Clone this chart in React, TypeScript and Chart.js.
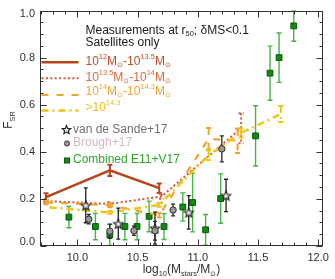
import { useEffect, useRef } from "react";
import { Chart, registerables } from "chart.js";

Chart.register(...registerables);

const FONT = '"Liberation Sans", Arial, Helvetica, sans-serif';
const AXIS_COLOR = "#303030";

// Axis ranges and tick layout
const X_MIN = 9.69;
const X_MAX = 12.04;
const X_MAJOR = 0.5;
const X_MINOR = 0.1;
const Y_MIN = 0;
const Y_MAX = 1;
const Y_MAJOR = 0.2;
const Y_MINOR = 0.05;
const Y_TICK_LABELS = ["0.0", "0.2", "0.4", "0.6", "0.8", "1.0"];

// Halo mass bins (satellites only)
const haloLowX = [9.74, 10.27, 10.68];
const haloLowY = [0.207, 0.321, 0.245];
const haloLowErr = [0.016, 0.024, 0.02];

const haloMidX = [9.74, 10.27, 10.7, 11.36];
const haloMidY = [0.19, 0.178, 0.21, 0.5];
const haloMidErr = [0.008, 0.008, 0.01, 0.064];

const haloHighX = [9.74, 10.27, 10.68, 11.09, 11.33];
const haloHighY = [0.185, 0.172, 0.13, 0.455, 0.447];
const haloHighErr = [0.008, 0.008, 0.01, 0.046, 0.052];

const haloTopX = [9.77, 10.27, 10.68, 11.09, 11.36, 11.69];
const haloTopY = [0.163, 0.142, 0.174, 0.385, 0.48, 0.56];
const haloTopErr = [0, 0.006, 0.008, 0.02, 0.02, 0.034];

// Literature measurements
const sandeX = [10.07, 10.34, 10.645, 10.925, 11.235];
const sandeY = [0.172, 0.094, 0.075, 0.142, 0.214];
const sandeErr = [0.074, 0.066, 0.068, 0.071, 0.069];

const broughX = [10.095, 10.27, 10.47, 10.645, 10.795, 11.2];
const broughY = [0.113, 0.062, 0.064, 0.064, 0.152, 0.412];
const broughErr = [0.02, 0.03, 0.02, 0.04, 0.025, 0.055];

const combinedX = [9.93, 10.15, 10.27, 10.395, 10.496, 10.596, 10.72, 10.876, 10.957, 11.065, 11.19, 11.48, 11.6, 11.675, 11.797];
const combinedY = [0.122, 0.082, 0.046, 0.082, 0.082, 0.125, 0.082, 0.165, 0.184, 0.068, 0.201, 0.4675, 0.734, 0.8, 0.935];
const combinedErr = [0.045, 0.056, 0.045, 0.056, 0.056, 0.065, 0.055, 0.06, 0.125, 0.065, 0.105, 0.128, 0.115, 0.105, 0.065];

// Line styles
const LOW_COLOR = "#b8441c";
const MID_COLOR = "#e0552d";
const HIGH_COLOR = "#f0a530";
const TOP_COLOR = "#f2c414";
const LOW_DASH: number[] = [];
const MID_DASH = [2, 2.4];
const HIGH_DASH = [7, 8];
const TOP_DASH = [7, 4, 2, 4];

const STAR_FILL = "#e4e4e4";
const STAR_EDGE = "#1e1e1e";
const CIRCLE_FILL = "#9a9a9a";
const CIRCLE_EDGE = "#333333";
const SQUARE_FILL = "#128a12";
const SQUARE_EDGE = "#0a5a0a";
const GREEN_BAR = "#43b543";

type Seg = [string, number];

function pts(xs: number[], ys: number[]) {
  return xs.map((x, i) => ({ x, y: ys[i] }));
}

function traceStar(ctx: CanvasRenderingContext2D, cx: number, cy: number, r: number) {
  ctx.beginPath();
  for (let i = 0; i < 10; i++) {
    const rad = i % 2 === 0 ? r : r * 0.45;
    const a = -Math.PI / 2 + (i * Math.PI) / 5;
    const px = cx + rad * Math.cos(a);
    const py = cy + rad * Math.sin(a);
    if (i === 0) ctx.moveTo(px, py);
    else ctx.lineTo(px, py);
  }
  ctx.closePath();
}

function makeStar(r: number): HTMLCanvasElement {
  const size = Math.ceil(r * 2 + 4);
  const c = document.createElement("canvas");
  c.width = size;
  c.height = size;
  const ctx = c.getContext("2d")!;
  traceStar(ctx, size / 2, size / 2 + r * 0.1, r);
  ctx.fillStyle = STAR_FILL;
  ctx.fill();
  ctx.lineWidth = 1.1;
  ctx.strokeStyle = STAR_EDGE;
  ctx.stroke();
  return c;
}

function drawRich(
  ctx: CanvasRenderingContext2D,
  x: number,
  y: number,
  segs: Seg[],
  size: number,
  color: string,
  align: "left" | "center" | "right" = "left"
) {
  const small = size * 0.62;
  let w = 0;
  for (const [t, m] of segs) {
    ctx.font = `${m ? small : size}px ${FONT}`;
    w += ctx.measureText(t).width;
  }
  let cx = align === "center" ? x - w / 2 : align === "right" ? x - w : x;
  ctx.fillStyle = color;
  ctx.textBaseline = "middle";
  ctx.textAlign = "left";
  for (const [t, m] of segs) {
    ctx.font = `${m ? small : size}px ${FONT}`;
    const dy = m === 1 ? -size * 0.36 : m === -1 ? size * 0.3 : 0;
    ctx.fillText(t, cx, y + dy);
    cx += ctx.measureText(t).width;
  }
}

const errorBarPlugin = {
  id: "errorBars",
  beforeDatasetDraw(chart: any, args: any) {
    const ds = chart.data.datasets[args.index];
    if (!ds.errors) return;
    const { ctx, chartArea: a } = chart;
    const yScale = chart.scales.y;
    ctx.save();
    ctx.beginPath();
    ctx.rect(a.left, a.top, a.right - a.left, a.bottom - a.top);
    ctx.clip();
    ctx.strokeStyle = ds.errorColor;
    ctx.lineWidth = ds.errorWidth;
    ctx.setLineDash(ds.errorDash || []);
    const cap = ds.capWidth / 2;
    args.meta.data.forEach((el: any, i: number) => {
      const e = ds.errors[i];
      if (!e) return;
      const v = ds.data[i].y;
      const x = el.x;
      const yt = yScale.getPixelForValue(v + e);
      const yb = yScale.getPixelForValue(v - e);
      ctx.beginPath();
      ctx.moveTo(x, yt);
      ctx.lineTo(x, yb);
      ctx.moveTo(x - cap, yt);
      ctx.lineTo(x + cap, yt);
      ctx.moveTo(x - cap, yb);
      ctx.lineTo(x + cap, yb);
      ctx.stroke();
    });
    ctx.restore();
  },
};

const boxPlugin = {
  id: "box",
  afterDatasetsDraw(chart: any) {
    const { ctx, chartArea: a, scales } = chart;
    const xs = scales.x;
    const ys = scales.y;
    ctx.save();
    ctx.strokeStyle = AXIS_COLOR;
    ctx.lineWidth = 1;
    const L = Math.round(a.left) + 0.5;
    const R = Math.round(a.right) - 0.5;
    const T = Math.round(a.top) + 0.5;
    const B = Math.round(a.bottom) - 0.5;
    ctx.strokeRect(L, T, R - L, B - T);
    ctx.beginPath();
    const nx = Math.round((X_MAX - X_MIN) / X_MINOR) + 2;
    const x0 = Math.ceil(X_MIN / X_MINOR - 1e-6);
    for (let k = x0; k < x0 + nx; k++) {
      const v = k * X_MINOR;
      if (v > X_MAX) break;
      const major = Math.abs(v / X_MAJOR - Math.round(v / X_MAJOR)) < 1e-6;
      const len = major ? 6 : 3;
      const px = Math.round(xs.getPixelForValue(v)) + 0.5;
      ctx.moveTo(px, B);
      ctx.lineTo(px, B - len);
      ctx.moveTo(px, T);
      ctx.lineTo(px, T + len);
    }
    const ny = Math.round((Y_MAX - Y_MIN) / Y_MINOR);
    for (let k = 0; k <= ny; k++) {
      const v = Y_MIN + k * Y_MINOR;
      const major = Math.abs(v / Y_MAJOR - Math.round(v / Y_MAJOR)) < 1e-6;
      const len = major ? 6 : 3;
      const py = Math.round(ys.getPixelForValue(v)) + 0.5;
      ctx.moveTo(L, py);
      ctx.lineTo(L + len, py);
      ctx.moveTo(R, py);
      ctx.lineTo(R - len, py);
    }
    ctx.stroke();
    ctx.restore();
  },
  afterDraw(chart: any) {
    const { ctx, chartArea: a, scales } = chart;
    ctx.save();
    // y tick labels, end labels kept inside the frame height
    Y_TICK_LABELS.forEach((lab, i) => {
      const v = Y_MIN + i * Y_MAJOR;
      let py = scales.y.getPixelForValue(v);
      if (i === 0) py -= 4;
      if (i === Y_TICK_LABELS.length - 1) py += 3.5;
      drawRich(ctx, a.left - 5, py, [[lab, 0]], 11, AXIS_COLOR, "right");
    });
    // axis titles
    drawRich(
      ctx,
      (a.left + a.right) / 2,
      270,
      [["log", 0], ["10", -1], ["(M", 0], ["stars", -1], ["/M", 0], ["⊙", -1], [")", 0]],
      12,
      AXIS_COLOR,
      "center"
    );
    ctx.save();
    ctx.translate(9, 120);
    ctx.rotate(-Math.PI / 2);
    drawRich(ctx, 0, 0, [["F", 0], ["SR", -1]], 12, AXIS_COLOR, "center");
    ctx.restore();

    // legend header
    drawRich(ctx, 85.5, 30.5, [["Measurements at r", 0], ["50", -1], ["; δMS<0.1", 0]], 12, "#1a1a1a");
    drawRich(ctx, 85.5, 42.5, [["Satellites only", 0]], 12, "#1a1a1a");

    // legend lines
    const rows: { y: number; ty: number; color: string; text: string; dash: number[]; w: number; segs: Seg[] }[] = [
      { y: 62.3, ty: 61.5, color: LOW_COLOR, text: "#c2502a", dash: LOW_DASH, w: 2.5,
        segs: [["10", 0], ["12", 1], ["M", 0], ["⊙", -1], ["-10", 0], ["13.5", 1], ["M", 0], ["⊙", -1]] },
      { y: 78.3, ty: 77.5, color: MID_COLOR, text: "#e06a3a", dash: MID_DASH, w: 2,
        segs: [["10", 0], ["13.5", 1], ["M", 0], ["⊙", -1], ["-10", 0], ["14", 1], ["M", 0], ["⊙", -1]] },
      { y: 95, ty: 91.5, color: HIGH_COLOR, text: "#eea535", dash: HIGH_DASH, w: 2,
        segs: [["10", 0], ["14", 1], ["M", 0], ["⊙", -1], ["-10", 0], ["14.3", 1], ["M", 0], ["⊙", -1]] },
      { y: 110.5, ty: 107.5, color: TOP_COLOR, text: "#efc020", dash: TOP_DASH, w: 2.5,
        segs: [[">10", 0], ["14.3", 1]] },
    ];
    for (const r of rows) {
      ctx.save();
      ctx.strokeStyle = r.color;
      ctx.lineWidth = r.w;
      ctx.setLineDash(r.dash);
      ctx.beginPath();
      ctx.moveTo(41.5, r.y);
      ctx.lineTo(78.5, r.y);
      ctx.stroke();
      ctx.restore();
      drawRich(ctx, 85.5, r.ty, r.segs, 12, r.text);
    }

    // legend symbols
    ctx.save();
    traceStar(ctx, 66.5, 130, 4.5);
    ctx.fillStyle = STAR_FILL;
    ctx.fill();
    ctx.lineWidth = 1.1;
    ctx.strokeStyle = STAR_EDGE;
    ctx.stroke();
    ctx.beginPath();
    ctx.arc(67, 143.5, 2.6, 0, Math.PI * 2);
    ctx.fillStyle = CIRCLE_FILL;
    ctx.fill();
    ctx.lineWidth = 1;
    ctx.strokeStyle = CIRCLE_EDGE;
    ctx.stroke();
    ctx.fillStyle = SQUARE_FILL;
    ctx.fillRect(64.5, 158, 5, 5);
    ctx.strokeStyle = SQUARE_EDGE;
    ctx.strokeRect(64.5, 158, 5, 5);
    ctx.restore();
    drawRich(ctx, 73, 129.5, [["van de Sande+17", 0]], 12, "#707070");
    drawRich(ctx, 73, 143, [["Brough+17", 0]], 12, "#d8b8c0");
    drawRich(ctx, 73, 160, [["Combined E11+V17", 0]], 12, "#2ea82e");
    ctx.restore();
  },
};

function lineSet(xs: number[], ys: number[], errs: number[], color: string, dash: number[], width: number) {
  return {
    data: pts(xs, ys),
    showLine: true,
    borderColor: color,
    borderWidth: width,
    borderDash: dash,
    pointRadius: 0,
    pointHoverRadius: 0,
    errors: errs,
    errorColor: color,
    errorWidth: Math.min(width, 2),
    errorDash: dash,
    capWidth: 5,
    order: 3,
  };
}

export default function App() {
  const ref = useRef<HTMLCanvasElement | null>(null);

  useEffect(() => {
    if (!ref.current) return;
    const star = makeStar(5);
    const tickFont = { family: FONT, size: 11 };
    const chart = new Chart(ref.current, {
      type: "scatter",
      data: {
        datasets: [
          {
            data: pts(combinedX, combinedY),
            pointStyle: "rect",
            pointRadius: 4.1,
            backgroundColor: SQUARE_FILL,
            borderColor: SQUARE_EDGE,
            borderWidth: 1,
            errors: combinedErr,
            errorColor: GREEN_BAR,
            errorWidth: 1.4,
            capWidth: 5,
            order: 5,
          } as any,
          lineSet(haloTopX, haloTopY, haloTopErr, TOP_COLOR, TOP_DASH, 2.5),
          lineSet(haloHighX, haloHighY, haloHighErr, HIGH_COLOR, HIGH_DASH, 2.2),
          lineSet(haloMidX, haloMidY, haloMidErr, MID_COLOR, MID_DASH, 2),
          lineSet(haloLowX, haloLowY, haloLowErr, LOW_COLOR, LOW_DASH, 2.5),
          {
            data: pts(broughX, broughY),
            pointStyle: "circle",
            pointRadius: 3.2,
            backgroundColor: CIRCLE_FILL,
            borderColor: CIRCLE_EDGE,
            borderWidth: 1,
            errors: broughErr,
            errorColor: "#2a2a2a",
            errorWidth: 1.3,
            capWidth: 4,
            order: 1,
          } as any,
          {
            data: pts(sandeX, sandeY),
            pointStyle: star,
            pointRadius: 5,
            errors: sandeErr,
            errorColor: "#1e1e1e",
            errorWidth: 1.3,
            capWidth: 4,
            order: 1,
          } as any,
        ],
      },
      options: {
        animation: false,
        responsive: false,
        devicePixelRatio: 1,
        events: [],
        layout: { padding: { top: 10.6, right: 5, left: 0, bottom: 0 } },
        plugins: { legend: { display: false }, tooltip: { enabled: false } },
        scales: {
          x: {
            type: "linear",
            min: X_MIN,
            max: X_MAX,
            afterFit: (s: any) => {
              s.height = 33.2;
            },
            grid: { display: false, drawTicks: false },
            border: { display: false },
            ticks: {
              stepSize: X_MAJOR,
              includeBounds: false,
              autoSkip: false,
              maxRotation: 0,
              padding: 6,
              color: AXIS_COLOR,
              font: tickFont,
              callback: (v: any) => Number(v).toFixed(1),
            },
          },
          y: {
            type: "linear",
            min: Y_MIN,
            max: Y_MAX,
            afterFit: (s: any) => {
              s.width = 40;
            },
            grid: { display: false, drawTicks: false },
            border: { display: false },
            ticks: { stepSize: Y_MAJOR, display: false },
          },
        },
      } as any,
      plugins: [errorBarPlugin, boxPlugin],
    });
    return () => chart.destroy();
  }, []);

  return (
    <div style={{ position: "fixed", left: 0, top: 0, width: 335, height: 279, background: "#fff" }}>
      <canvas ref={ref} width={335} height={279} style={{ display: "block", width: 335, height: 279 }} />
    </div>
  );
}
